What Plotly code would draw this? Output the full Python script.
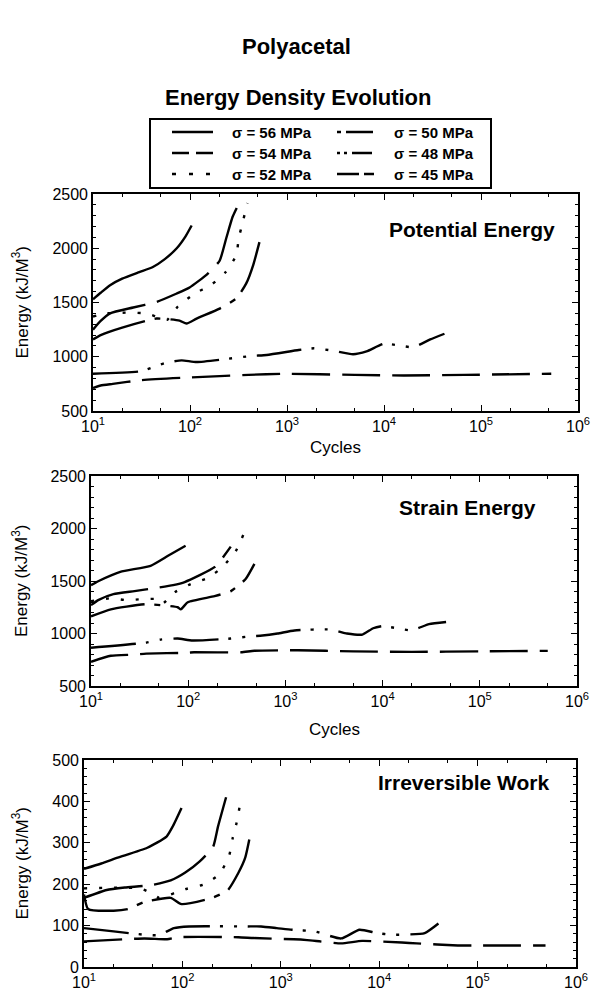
import plotly.graph_objects as go

W, H = 592, 997
FONT = "Liberation Sans, Arial, sans-serif"

# ---------------- data (cycles, energy) ----------------
# Potential energy (kJ/M^3)
pe_56_n = [10, 12, 15, 20, 30, 41, 55, 73, 90, 104]
pe_56_e = [1530, 1590, 1660, 1720, 1780, 1825, 1900, 2000, 2110, 2210]
pe_54_n = [10, 12, 15, 26, 45, 73, 99, 150, 202, 236, 275, 310]
pe_54_e = [1250, 1330, 1400, 1454, 1505, 1583, 1639, 1760, 1885, 2090, 2290, 2390]
pe_52_n = [10, 13, 23, 36, 52, 58, 75, 112, 162, 232, 300, 318, 350, 390]
pe_52_e = [1370, 1398, 1407, 1398, 1350, 1340, 1463, 1583, 1657, 1778, 1935, 2093, 2241, 2417]
pe_50_n = [10, 12, 20, 45, 78, 92, 117, 202, 300, 380, 450, 520]
pe_50_e = [1160, 1200, 1269, 1352, 1333, 1306, 1352, 1444, 1537, 1676, 1850, 2056]
pe_48_n = [10, 31, 40, 55, 82, 117, 430, 617, 1320, 1900, 3000, 4800, 6600, 10000, 14000, 20000, 30000, 42000]
pe_48_e = [843, 866, 899, 941, 967, 951, 1007, 1016, 1062, 1078, 1055, 1023, 1049, 1120, 1105, 1088, 1160, 1212]
pe_45_n = [10, 12, 16, 31, 103, 400, 920, 5000, 16000, 68000, 530000]
pe_45_e = [712, 735, 750, 784, 810, 833, 843, 833, 827, 833, 843]

# Strain energy (kJ/M^3)
se_56_n = [10, 12, 20, 41, 62, 94]
se_56_e = [1460, 1500, 1587, 1645, 1740, 1836]
se_54_n = [10, 12, 17, 28, 45, 70, 92, 188, 274]
se_54_e = [1270, 1320, 1375, 1404, 1432, 1461, 1490, 1634, 1827]
se_52_n = [10, 16, 23, 34, 49, 55, 73, 106, 160, 226, 310, 370]
se_52_e = [1308, 1336, 1318, 1327, 1327, 1288, 1394, 1471, 1529, 1634, 1788, 1942]
se_50_n = [10, 16, 37, 78, 84, 99, 187, 275, 390, 480]
se_50_e = [1163, 1230, 1279, 1250, 1230, 1298, 1356, 1404, 1519, 1663]
se_48_n = [10, 37, 52, 78, 111, 275, 410, 580, 830, 1240, 2900, 4300, 6200, 8000, 10000, 14000, 20000, 30000, 45000]
se_48_e = [865, 913, 942, 952, 933, 952, 971, 981, 1000, 1029, 1038, 1000, 990, 1050, 1070, 1050, 1030, 1090, 1110]
se_45_n = [10, 16, 27, 37, 99, 115, 350, 480, 1340, 5000, 20000, 100000, 500000]
se_45_e = [731, 788, 798, 808, 817, 821, 821, 836, 840, 830, 825, 830, 835]

# Irreversible work (kJ/M^3)
iw_56_n = [10, 15, 22, 44, 69, 80, 98]
iw_56_e = [237, 250, 264, 288, 315, 340, 384]
iw_54_n = [10, 17, 26, 49, 76, 107, 150, 205, 230, 278]
iw_54_e = [167, 186, 192, 198, 209, 228, 255, 290, 339, 410]
iw_52_n = [10, 37, 51, 58, 107, 167, 240, 300, 325, 355, 385]
iw_52_e = [190, 190, 175, 167, 188, 200, 225, 271, 312, 348, 392]
iw_50_n = [10, 11, 20, 28, 41, 76, 98, 200, 288, 370, 435, 490]
iw_50_e = [175, 140, 136, 140, 157, 167, 152, 167, 185, 227, 264, 320]
iw_48_n = [10, 20, 41, 58, 82, 117, 450, 630, 910, 1300, 2200, 4100, 6300, 9500, 13500, 29000, 40000]
iw_48_e = [94, 86, 78, 77, 94, 98, 98, 98, 94, 90, 86, 69, 90, 82, 78, 82, 105]
iw_45_n = [10, 41, 70, 90, 370, 530, 1350, 1850, 4100, 6700, 17000, 24000, 63000, 90000, 240000, 490000]
iw_45_e = [62, 69, 67, 72, 72, 70, 67, 65, 57, 63, 59, 57, 52, 52, 52, 52]

panel_titles = ["Potential Energy", "Strain Energy", "Irreversible Work"]
x_tickvals = [10, 100, 1000, 10000, 100000, 1000000]
x_ticktext = ["10<sup>1</sup>", "10<sup>2</sup>", "10<sup>3</sup>", "10<sup>4</sup>", "10<sup>5</sup>", "10<sup>6</sup>"]

# ---------------- styles ----------------
DASH = {
    "56": "solid",
    "54": "60px,12px",
    "52": "3px,12px",
    "50": "55px,10px,6px,10px",
    "48": "45px,10px,3px,11px,3px,11px",
    "45": "38px,12px",
}
LEG_DASH = {
    "56": "solid",
    "54": "17px,7px",
    "52": "4px,13px",
    "50": "4px,5px,27px,100px",
    "48": "3px,4px,3px,5px,20px,100px",
    "45": "22px,5px,15px,100px",
}
LW = 2.4

panels = [
    ("x", "y", {"56": (pe_56_n, pe_56_e), "54": (pe_54_n, pe_54_e), "52": (pe_52_n, pe_52_e),
                "50": (pe_50_n, pe_50_e), "48": (pe_48_n, pe_48_e), "45": (pe_45_n, pe_45_e)}),
    ("x2", "y2", {"56": (se_56_n, se_56_e), "54": (se_54_n, se_54_e), "52": (se_52_n, se_52_e),
                  "50": (se_50_n, se_50_e), "48": (se_48_n, se_48_e), "45": (se_45_n, se_45_e)}),
    ("x3", "y3", {"56": (iw_56_n, iw_56_e), "54": (iw_54_n, iw_54_e), "52": (iw_52_n, iw_52_e),
                  "50": (iw_50_n, iw_50_e), "48": (iw_48_n, iw_48_e), "45": (iw_45_n, iw_45_e)}),
]

fig = go.Figure()
for xa, ya, series in panels:
    for key, (n, e) in series.items():
        fig.add_trace(go.Scatter(
            x=n, y=e, xaxis=xa, yaxis=ya, mode="lines",
            line=dict(color="black", width=LW, dash=DASH[key], shape="spline", smoothing=0.5),
            name="σ = %s MPa" % key, showlegend=False, hoverinfo="skip"))

def px(x):
    return x / W

def py(y):
    return 1 - y / H

# panel boxes in pixels: (left, right, top, bottom)
boxes = [(93, 578, 194, 411), (91, 577, 476, 686), (84, 576, 760, 967)]
yranges = [[500, 2500], [500, 2500], [0, 500]]
ydticks = [500, 500, 100]
yminor = [100, 100, 20]

layout = dict(width=W, height=H, margin=dict(l=0, r=0, t=0, b=0),
              paper_bgcolor="white", plot_bgcolor="white",
              font=dict(family=FONT, color="black", size=16), showlegend=False)

for i, ((l, r, t, b), yr) in enumerate(zip(boxes, yranges)):
    sx = "" if i == 0 else str(i + 1)
    layout["xaxis" + sx] = dict(
        type="log", range=[1, 6], domain=[px(l), px(r)], anchor="y" + sx,
        tickmode="array", tickvals=x_tickvals, ticktext=x_ticktext,
        ticks="inside", ticklen=6, tickwidth=1, tickcolor="black",
        minor=dict(ticks="inside", ticklen=3, tickwidth=1, tickcolor="black", showgrid=False),
        showline=True, linewidth=1.6, linecolor="black", mirror="ticks",
        showgrid=False, zeroline=False, automargin=False,
        tickfont=dict(size=16, family=FONT))
    layout["yaxis" + sx] = dict(
        range=yr, domain=[py(b), py(t)], anchor="x" + sx,
        tickmode="linear", tick0=yr[0], dtick=ydticks[i],
        ticks="inside", ticklen=6, tickwidth=1, tickcolor="black",
        minor=dict(ticks="inside", ticklen=3, tickwidth=1, tickcolor="black", dtick=yminor[i], showgrid=False),
        showline=True, linewidth=1.6, linecolor="black", mirror="ticks",
        showgrid=False, zeroline=False, automargin=False,
        tickfont=dict(size=16, family=FONT))

fig.update_layout(**layout)

ann = []
# titles
ann.append(dict(text="<b>Polyacetal</b>", x=px(296), y=py(46), xref="paper", yref="paper",
                showarrow=False, font=dict(size=22, family=FONT), xanchor="center", yanchor="middle"))
ann.append(dict(text="<b>Energy Density Evolution</b>", x=px(298), y=py(97), xref="paper", yref="paper",
                showarrow=False, font=dict(size=22, family=FONT), xanchor="center", yanchor="middle"))
# panel labels
lab_pos = [(557, 230), (538, 507), (552, 782)]
for txt, (lx, ly) in zip(panel_titles, lab_pos):
    ann.append(dict(text="<b>%s</b>" % txt, x=px(lx), y=py(ly), xref="paper", yref="paper",
                    showarrow=False, font=dict(size=21, family=FONT), xanchor="right", yanchor="middle"))
# y titles
for (l, r, t, b) in boxes:
    ann.append(dict(text="Energy (kJ/M<sup>3</sup>)", x=px(20), y=py((t + b) / 2), xref="paper", yref="paper",
                    showarrow=False, textangle=-90, font=dict(size=17, family=FONT),
                    xanchor="center", yanchor="middle"))
# x titles (Cycles) below panels 1 and 2
for (l, r, t, b), cy in zip(boxes[:2], [448, 729]):
    ann.append(dict(text="Cycles", x=px((l + r) / 2), y=py(cy), xref="paper", yref="paper",
                    showarrow=False, font=dict(size=17, family=FONT), xanchor="center", yanchor="middle"))

# legend (drawn as a box with sample lines)
shapes = [dict(type="rect", xref="paper", yref="paper", x0=px(150), x1=px(491), y0=py(119), y1=py(188),
               line=dict(color="black", width=2), fillcolor="white")]
leg_rows = [132, 153, 174]
leg_keys = [("56", "50"), ("54", "48"), ("52", "45")]
for row_y, (k1, k2) in zip(leg_rows, leg_keys):
    for k, (sx0, sx1, tx) in zip((k1, k2), ((172, 213, 230), (337, 374, 392))):
        shapes.append(dict(type="line", xref="paper", yref="paper", x0=px(sx0), x1=px(sx1),
                           y0=py(row_y), y1=py(row_y), line=dict(color="black", width=LW, dash=LEG_DASH[k])))
        ann.append(dict(text="<b>σ = %s MPa</b>" % k, x=px(tx), y=py(row_y), xref="paper", yref="paper",
                        showarrow=False, font=dict(size=15, family=FONT), xanchor="left", yanchor="middle"))

fig.update_layout(annotations=ann, shapes=shapes)
fig.write_html("out.html")
